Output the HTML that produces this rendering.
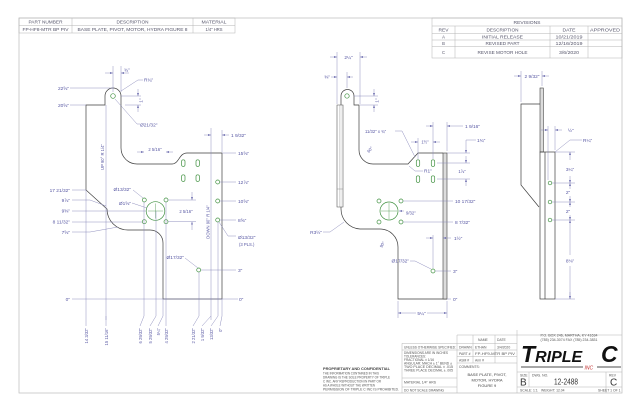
<!DOCTYPE html>
<html><head><meta charset="utf-8">
<style>
html,body{margin:0;padding:0;background:#fff;}
svg{display:block;}
text{font-family:"Liberation Sans",sans-serif;}
.o{fill:none;stroke:#3f3f3f;stroke-width:0.7;}
.d{fill:none;stroke:#8585b8;stroke-width:0.45;}
.h{fill:none;stroke:#3f903f;stroke-width:0.7;}
.t{fill:#5656a2;font-size:4.8px;}
.s{fill:#5656a2;font-size:4.2px;}
.f{fill:none;stroke:#c4c4c4;stroke-width:0.8;}
.g{fill:none;stroke:#b4b4b4;stroke-width:0.5;}
.k{fill:#555;font-size:3.4px;}
.m{fill:#55556a;font-size:4.2px;}
</style></head><body>
<svg width="640" height="414" viewBox="0 0 640 414">
<defs>
<marker id="a" viewBox="0 0 6 4" refX="6" refY="2" markerWidth="3" markerHeight="2" orient="auto" markerUnits="userSpaceOnUse"><path d="M0 0L6 2L0 4z" fill="#6f6fb0"/></marker>
</defs>

<!-- frame -->
<rect x="19" y="18" width="603" height="375" class="f"/>

<!-- top-left table -->
<g class="g">
<rect x="19" y="18" width="216" height="15"/>
<path d="M19 25.5H235 M72 18V33 M193 18V33"/>
</g>
<g class="m" text-anchor="middle">
<text x="45.5" y="23.6" textLength="34" lengthAdjust="spacingAndGlyphs">PART NUMBER</text>
<text x="132.5" y="23.6" textLength="32" lengthAdjust="spacingAndGlyphs">DESCRIPTION</text>
<text x="214" y="23.6" textLength="25" lengthAdjust="spacingAndGlyphs">MATERIAL</text>
<text x="45.5" y="31" textLength="46" lengthAdjust="spacingAndGlyphs">FP-HF8-MTR BP PIV</text>
<text x="132.5" y="31" textLength="110" lengthAdjust="spacingAndGlyphs">BASE PLATE, PIVOT, MOTOR, HYDRA FIGURE 8</text>
<text x="214" y="31" textLength="17" lengthAdjust="spacingAndGlyphs">1/4" HRS</text>
</g>

<!-- revisions table -->
<g class="g">
<rect x="432" y="18" width="190" height="40"/>
<path d="M432 26H622 M432 33.3H622 M432 40H622 M432 46.7H622 M455 26V58 M550 26V58 M588 26V58"/>
</g>
<g class="m" text-anchor="middle">
<text x="527" y="24" textLength="27" lengthAdjust="spacingAndGlyphs">REVISIONS</text>
<text x="443.5" y="31.4" textLength="10" lengthAdjust="spacingAndGlyphs">REV</text>
<text x="502.5" y="31.4" textLength="32" lengthAdjust="spacingAndGlyphs">DESCRIPTION</text>
<text x="569" y="31.4" textLength="13" lengthAdjust="spacingAndGlyphs">DATE</text>
<text x="605" y="31.4" textLength="30" lengthAdjust="spacingAndGlyphs">APPROVED</text>
<text x="443.5" y="38.4">A</text>
<text x="502.5" y="38.4" textLength="41" lengthAdjust="spacingAndGlyphs">INITIAL RELEASE</text>
<text x="569" y="38.4" textLength="27" lengthAdjust="spacingAndGlyphs">10/21/2019</text>
<text x="443.5" y="45">B</text>
<text x="502.5" y="45" textLength="34" lengthAdjust="spacingAndGlyphs">REVISED PART</text>
<text x="569" y="45" textLength="27" lengthAdjust="spacingAndGlyphs">12/16/2019</text>
<text x="443.5" y="54">C</text>
<text x="502.5" y="54" textLength="50" lengthAdjust="spacingAndGlyphs">REVISE MOTOR HOLE</text>
<text x="569" y="54" textLength="20" lengthAdjust="spacingAndGlyphs">3/6/2020</text>
</g>

<!-- ============ LEFT VIEW ============ -->
<path class="o" d="M86 105H105V96A8 8 0 0 1 121 96V148A16 16 0 0 0 137 164H172C179 164 179 153 187 153H222V299H163V243A13 13 0 0 0 150 230H128A21 21 0 0 1 107 209L86 190Z"/>
<path class="d" d="M106 105V320 M211 128V320"/>
<text class="s" transform="translate(104,157) rotate(-90)" text-anchor="middle">UP 90° R 1/4"</text>
<text class="s" transform="translate(209.5,222) rotate(-90)" text-anchor="middle">DOWN 90° R 1/4"</text>
<g class="h">
<circle cx="113" cy="96" r="2.3"/>
<circle cx="155.5" cy="211" r="9.3"/>
<path d="M148 211H163 M155.5 203.5V218.5" stroke-width="0.4"/>
<circle cx="144.3" cy="200" r="2"/><circle cx="166" cy="200" r="2"/>
<circle cx="144.3" cy="221.7" r="2"/><circle cx="166" cy="221.7" r="2"/>
<rect x="181.6" y="159.8" width="3.4" height="6.6" rx="1.7"/>
<rect x="196" y="159.8" width="3.4" height="6.6" rx="1.7"/>
<rect x="181.6" y="174.8" width="3.4" height="6.6" rx="1.7"/>
<rect x="196" y="174.8" width="3.4" height="6.6" rx="1.7"/>
<circle cx="217.7" cy="182" r="2"/><circle cx="217.7" cy="201" r="2"/><circle cx="217.7" cy="220" r="2"/>
<circle cx="198.7" cy="270" r="2"/>
</g>
<g class="d">
<path d="M113 66V92 M121 66V92"/>
<path d="M105 73H113" marker-end="url(#a)"/><path d="M129 73H121" marker-end="url(#a)"/>
<path d="M121 91L138 80H143"/>
<path d="M121 96H141 M125 105H141"/>
<path d="M138 89V96" marker-end="url(#a)"/><path d="M138 112V105" marker-end="url(#a)"/>
<path d="M115 99L137 124H140"/>
<path d="M70 88H113 M70 105H86"/>
<path d="M137 152H144" marker-end="url(#a)"/><path d="M173 152H166" marker-end="url(#a)"/>
<path d="M222 130V152"/>
<path d="M204 135H211" marker-end="url(#a)"/><path d="M229 135H222" marker-end="url(#a)"/>
<path d="M222 153H236 M220 182H236 M220 201H236 M220 220H236 M201 270H236 M72 299H238"/>
<path d="M219 222L228 236H236"/>
<path d="M168 200H196 M168 221.7H196"/>
<path d="M192 192V200" marker-end="url(#a)"/><path d="M192 230V221.7" marker-end="url(#a)"/>
<path d="M72 190H86 M72 200H90L106 206 M72 211H146 M72 222H142 M72 232H90L118 227"/>
<path d="M133 190L143 198 M132 203L147 208 M185 258L198 268"/>
<path d="M86 190V316L86 326 M144 202V316L140 326 M156 211V316L150 326 M163 299V316L158 326 M166 202V316L166 326 M199 272V316L193 326 M211 316L202 326 M218 222V316L211 326 M222 299V316L220 326 M106 316L106 326"/>
</g>
<g class="t">
<text x="124" y="71.5">¾"</text>
<text x="144" y="81.5">R¾"</text>
<text transform="translate(142.5,100.5) rotate(-90)" text-anchor="middle">1"</text>
<text x="140" y="126.5">Ø21/32"</text>
<text x="69" y="90" text-anchor="end">22⅝"</text>
<text x="69" y="107" text-anchor="end">20⅝"</text>
<text x="155" y="151" text-anchor="middle" class="s">2 5/16"</text>
<text x="231" y="137">1 9/32"</text>
<text x="238" y="155">15⅝"</text>
<text x="238" y="184">12⅞"</text>
<text x="238" y="203">10⅝"</text>
<text x="238" y="222">8⅝"</text>
<text x="238" y="239">Ø13/32"</text>
<text x="239" y="246" class="s">(3 PLS.)</text>
<text x="238" y="272">3"</text>
<text x="239" y="301">0"</text>
<text x="70" y="301" text-anchor="end">0"</text>
<text x="186" y="213" text-anchor="middle" class="s">2 5/16"</text>
<text x="70" y="192" text-anchor="end">17 21/32"</text>
<text x="70" y="202" text-anchor="end">9⅞"</text>
<text x="70" y="212.5" text-anchor="end">9⅝"</text>
<text x="70" y="223.5" text-anchor="end">8 11/32"</text>
<text x="70" y="234" text-anchor="end">7⅝"</text>
<text x="131" y="191" text-anchor="end">Ø13/32"</text>
<text x="131" y="205" text-anchor="end">Ø1⅝"</text>
<text x="184" y="259" text-anchor="end">Ø17/32"</text>
</g>
<g class="s" text-anchor="end">
<text transform="translate(88,328) rotate(-90)">14 3/32"</text>
<text transform="translate(108,328) rotate(-90)">15 11/16"</text>
<text transform="translate(142,328) rotate(-90)">6 29/32"</text>
<text transform="translate(152,328) rotate(-90)">5 29/32"</text>
<text transform="translate(160,328) rotate(-90)">5¼"</text>
<text transform="translate(168,328) rotate(-90)">4 29/32"</text>
<text transform="translate(195,328) rotate(-90)">2 21/32"</text>
<text transform="translate(204,328) rotate(-90)">1 9/32"</text>
<text transform="translate(213,328) rotate(-90)">13/32"</text>
<text transform="translate(222,328) rotate(-90)">0"</text>
</g>

<!-- ============ MIDDLE VIEW ============ -->
<path class="o" d="M341 105V96A6.5 6.5 0 0 1 354 96V105H359V150A14 14 0 0 0 373 164H408L418 153H443"/>
<path class="o" d="M447 299H398V247A18 18 0 0 0 380 229H360A20 20 0 0 1 341 209V207"/>
<path d="M337 105H343V207H337Z" fill="none" stroke="#4a4a4a" stroke-width="0.55"/>
<path d="M339.3 105V207 M341 105V207" fill="none" stroke="#8a8a8a" stroke-width="0.3"/>
<path d="M337 189H343" fill="none" stroke="#6a6a6a" stroke-width="0.35"/>
<rect x="443" y="153" width="4" height="146" fill="#dcdcdc" stroke="#3f3f3f" stroke-width="0.6"/>
<g class="h">
<circle cx="347" cy="96" r="2.2"/>
<circle cx="389" cy="211" r="9"/>
<path d="M381 211H397 M389 203V219" stroke-width="0.4"/>
<circle cx="379" cy="201" r="2"/><circle cx="401" cy="201" r="2"/>
<circle cx="379" cy="222" r="2"/><circle cx="401" cy="222" r="2"/>
<rect x="416.3" y="159.8" width="3.4" height="6.6" rx="1.7"/>
<rect x="431.3" y="159.8" width="3.4" height="6.6" rx="1.7"/>
<rect x="416.3" y="175.8" width="3.4" height="6.6" rx="1.7"/>
<rect x="431.3" y="175.8" width="3.4" height="6.6" rx="1.7"/>
<circle cx="433" cy="271" r="2"/>
</g>
<g class="d">
<path d="M337 104V52 M360 104V52"/>
<path d="M330 57H337" marker-end="url(#a)"/><path d="M367 57H360" marker-end="url(#a)"/>
<path d="M347 88V72"/>
<path d="M331 77H337" marker-end="url(#a)"/><path d="M353 77H347" marker-end="url(#a)"/>
<path d="M354 96H378 M360 105H378"/>
<path d="M374 89V96" marker-end="url(#a)"/><path d="M374 112V105" marker-end="url(#a)"/>
<path d="M395 131H402L415 157"/>
<path d="M418 159V138 M433 159V122"/>
<path d="M411 142H418" marker-end="url(#a)"/><path d="M440 142H433" marker-end="url(#a)"/>
<path d="M447 151V122"/>
<path d="M426 126H433" marker-end="url(#a)"/><path d="M454 126H447" marker-end="url(#a)"/><path d="M454 126H463"/>
<path d="M447 153H470 M437 163H470 M437 179H470 M466 140H476"/>
<path d="M466 140V153" marker-end="url(#a)"/>
<path d="M466 156V163" marker-end="url(#a)"/><path d="M466 186V179" marker-end="url(#a)"/>
<path d="M409 166L415 171H423"/>
<path d="M403 201H453 M403 222H453"/>
<path d="M404 211H399" marker-end="url(#a)"/>
<path d="M433 268V235"/>
<path d="M426 238H433" marker-end="url(#a)"/><path d="M451 238H443" marker-end="url(#a)"/>
<path d="M410 261H415L431 269"/>
<path d="M435 271H451 M447 299H451"/>
<path d="M323 232H330L344 222"/>
<path d="M398 301V318 M447 301V318"/>
<path d="M416 313H398" marker-end="url(#a)"/><path d="M427 313H447" marker-end="url(#a)"/>
</g>
<g class="t">
<text x="348.5" y="59" text-anchor="middle">2¼"</text>
<text x="330" y="78.5" text-anchor="end">⅜"</text>
<text transform="translate(378.5,100.5) rotate(-90)" text-anchor="middle">1"</text>
<text x="365" y="133" class="s">11/32" x ¾"</text>
<text transform="translate(369,153) rotate(-50)" class="s">60°</text>
<text x="425" y="143.5" text-anchor="middle" class="s">1½"</text>
<text x="465" y="128">1 9/16"</text>
<text x="477" y="142">1¾"</text>
<text x="462" y="173" text-anchor="middle" class="s">1⅞"</text>
<text x="424" y="172.5">R1"</text>
<text x="455" y="203">10 17/32"</text>
<text x="455" y="224">8 7/32"</text>
<text x="406" y="214.5" class="s">9/32"</text>
<text x="454" y="240">1½"</text>
<text x="409" y="262.5" text-anchor="end">Ø17/32"</text>
<text x="453" y="273">3"</text>
<text x="453" y="301">0"</text>
<text x="322" y="234" text-anchor="end">R3½"</text>
<text transform="translate(382,248) rotate(-60)" class="s">90°</text>
<text x="421.5" y="315" text-anchor="middle">5¼"</text>
</g>

<!-- ============ RIGHT VIEW ============ -->
<rect x="540" y="88" width="3.3" height="64" fill="#dcdcdc" stroke="#3f3f3f" stroke-width="0.6"/>
<path class="o" d="M540 104H521V185L539 207"/>
<rect x="540" y="152" width="15" height="147" class="o"/>
<path class="o" d="M545 152V299"/>
<g class="h">
<circle cx="550" cy="183" r="1.8"/><circle cx="550" cy="202" r="1.8"/><circle cx="550" cy="220" r="1.8"/>
</g>
<g class="d">
<path d="M521 102V71 M542 86V71"/>
<path d="M514 76H521" marker-end="url(#a)"/><path d="M549 76H542" marker-end="url(#a)"/>
<path d="M548 180V126 M555 150V126"/>
<path d="M541 130H548" marker-end="url(#a)"/><path d="M562 130H555" marker-end="url(#a)"/>
<path d="M555 152L570 140H582"/>
<path d="M555 152H575 M552 183H575 M552 202H575 M552 220H575 M555 299H575"/>
<path d="M570 160V152" marker-end="url(#a)"/><path d="M570 176V183" marker-end="url(#a)"/>
<path d="M570 189V183" marker-end="url(#a)"/><path d="M570 196V202" marker-end="url(#a)"/>
<path d="M570 207V202" marker-end="url(#a)"/><path d="M570 215V220" marker-end="url(#a)"/>
<path d="M570 226V220" marker-end="url(#a)"/><path d="M570 255V226 M570 266V299" />
<path d="M570 292V299" marker-end="url(#a)"/>
</g>
<g class="t">
<text x="532" y="78" text-anchor="middle">2 9/32"</text>
<text x="568" y="132">½"</text>
<text x="583" y="142">R¼"</text>
<text x="570" y="171" text-anchor="middle">3¼"</text>
<text x="568" y="194" text-anchor="middle">2"</text>
<text x="568" y="213" text-anchor="middle">2"</text>
<text x="570" y="262.5" text-anchor="middle">8⅛"</text>
</g>

<!-- ============ TITLE BLOCK ============ -->
<g class="g">
<path d="M457 335H622 M402 343.3H517 M402 350H517 M457 356.5H517 M457 363H517 M402 378H457 M402 387H457"/>
<path d="M402 343.3V393 M457 335V393 M473 335V363 M495 335V363 M517 330V393"/>
<path d="M517 372H622 M517 387H622 M529 372V387 M606 372V393"/>
</g>
<text x="323" y="370" font-size="3.9" font-weight="bold" fill="#444" textLength="67" lengthAdjust="spacingAndGlyphs">PROPRIETARY AND CONFIDENTIAL</text>
<g class="k">
<text x="323" y="374.7" textLength="56" lengthAdjust="spacingAndGlyphs">THE INFORMATION CONTAINED IN THIS</text>
<text x="323" y="378.7" textLength="67" lengthAdjust="spacingAndGlyphs">DRAWING IS THE SOLE PROPERTY OF TRIPLE</text>
<text x="323" y="382.7" textLength="58" lengthAdjust="spacingAndGlyphs">C INC.  ANY REPRODUCTION IN PART OR</text>
<text x="323" y="386.7" textLength="52" lengthAdjust="spacingAndGlyphs">AS A WHOLE WITHOUT THE WRITTEN</text>
<text x="323" y="390.7" textLength="76" lengthAdjust="spacingAndGlyphs">PERMISSION OF TRIPLE C INC IS PROHIBITED.</text>
<text x="404" y="348.5" textLength="52" lengthAdjust="spacingAndGlyphs">UNLESS OTHERWISE SPECIFIED:</text>
<text x="404" y="354" textLength="44" lengthAdjust="spacingAndGlyphs">DIMENSIONS ARE IN INCHES</text>
<text x="404" y="357.5" textLength="22" lengthAdjust="spacingAndGlyphs">TOLERANCES:</text>
<text x="404" y="361" textLength="30" lengthAdjust="spacingAndGlyphs">FRACTIONAL ± 1/16</text>
<text x="404" y="364.5" textLength="48" lengthAdjust="spacingAndGlyphs">ANGULAR: MACH ± 1°  BEND ±</text>
<text x="404" y="368" textLength="49" lengthAdjust="spacingAndGlyphs">TWO PLACE DECIMAL    ± .015</text>
<text x="404" y="371.5" textLength="49" lengthAdjust="spacingAndGlyphs">THREE PLACE DECIMAL  ± .005</text>
<text x="404" y="383.5" textLength="32" lengthAdjust="spacingAndGlyphs">MATERIAL   1/4" HRS</text>
<text x="404" y="391.5" textLength="40" lengthAdjust="spacingAndGlyphs">DO NOT SCALE DRAWING</text>
<text x="478" y="341">NAME</text>
<text x="497" y="341">DATE</text>
<text x="459" y="348.5">DRAWN</text>
<text x="475" y="348.5">ETHAN</text>
<text x="497" y="348.5">3/4/2020</text>
<text x="459" y="355">PART #</text>
<text x="475" y="355" textLength="40" lengthAdjust="spacingAndGlyphs">FP-HF9-MTR BP PIV</text>
<text x="459" y="361.5">ASM #</text>
<text x="475" y="361.5">Arm #</text>
<text x="459" y="368">COMMENTS:</text>
<text x="520" y="376.5">SIZE</text>
<text x="532" y="376.5">DWG.  NO.</text>
<text x="609" y="376.5">REV</text>
<text x="520" y="391.5">SCALE: 1:1</text>
<text x="541" y="391.5">WEIGHT: 12.04</text>
<text x="598" y="391.5">SHEET 1 OF 1</text>
<text x="569" y="336.5" text-anchor="middle" textLength="57" lengthAdjust="spacingAndGlyphs">P.O. BOX 246, MARTHA, KY 41634</text>
<text x="569" y="341" text-anchor="middle" textLength="57" lengthAdjust="spacingAndGlyphs">(785) 234-3074  FAX (785) 234-3831</text>
</g>
<g font-size="4" fill="#444" text-anchor="middle">
<text x="487" y="376">BASE PLATE, PIVOT,</text>
<text x="487" y="381.5">MOTOR, HYDRA</text>
<text x="487" y="387">FIGURE 9</text>
</g>
<text x="521" y="362" font-weight="bold" font-style="italic" font-size="23" fill="#111">T<tspan font-size="16">RIPLE</tspan></text>
<text x="601" y="362" font-weight="bold" font-style="italic" font-size="23" fill="#111">C</text>
<path d="M521 367H583 M597 367H621" stroke="#8a8a8a" stroke-width="1.6"/>
<text x="584.5" y="369.5" font-size="5" fill="#c03030" font-style="italic">INC</text>
<text x="520" y="385.5" font-size="10" fill="#333">B</text>
<text x="566" y="384.5" font-size="8" fill="#333" text-anchor="middle" textLength="24" lengthAdjust="spacingAndGlyphs">12-2488</text>
<text x="610" y="385.5" font-size="10" fill="#333">C</text>
</svg>
</body></html>
